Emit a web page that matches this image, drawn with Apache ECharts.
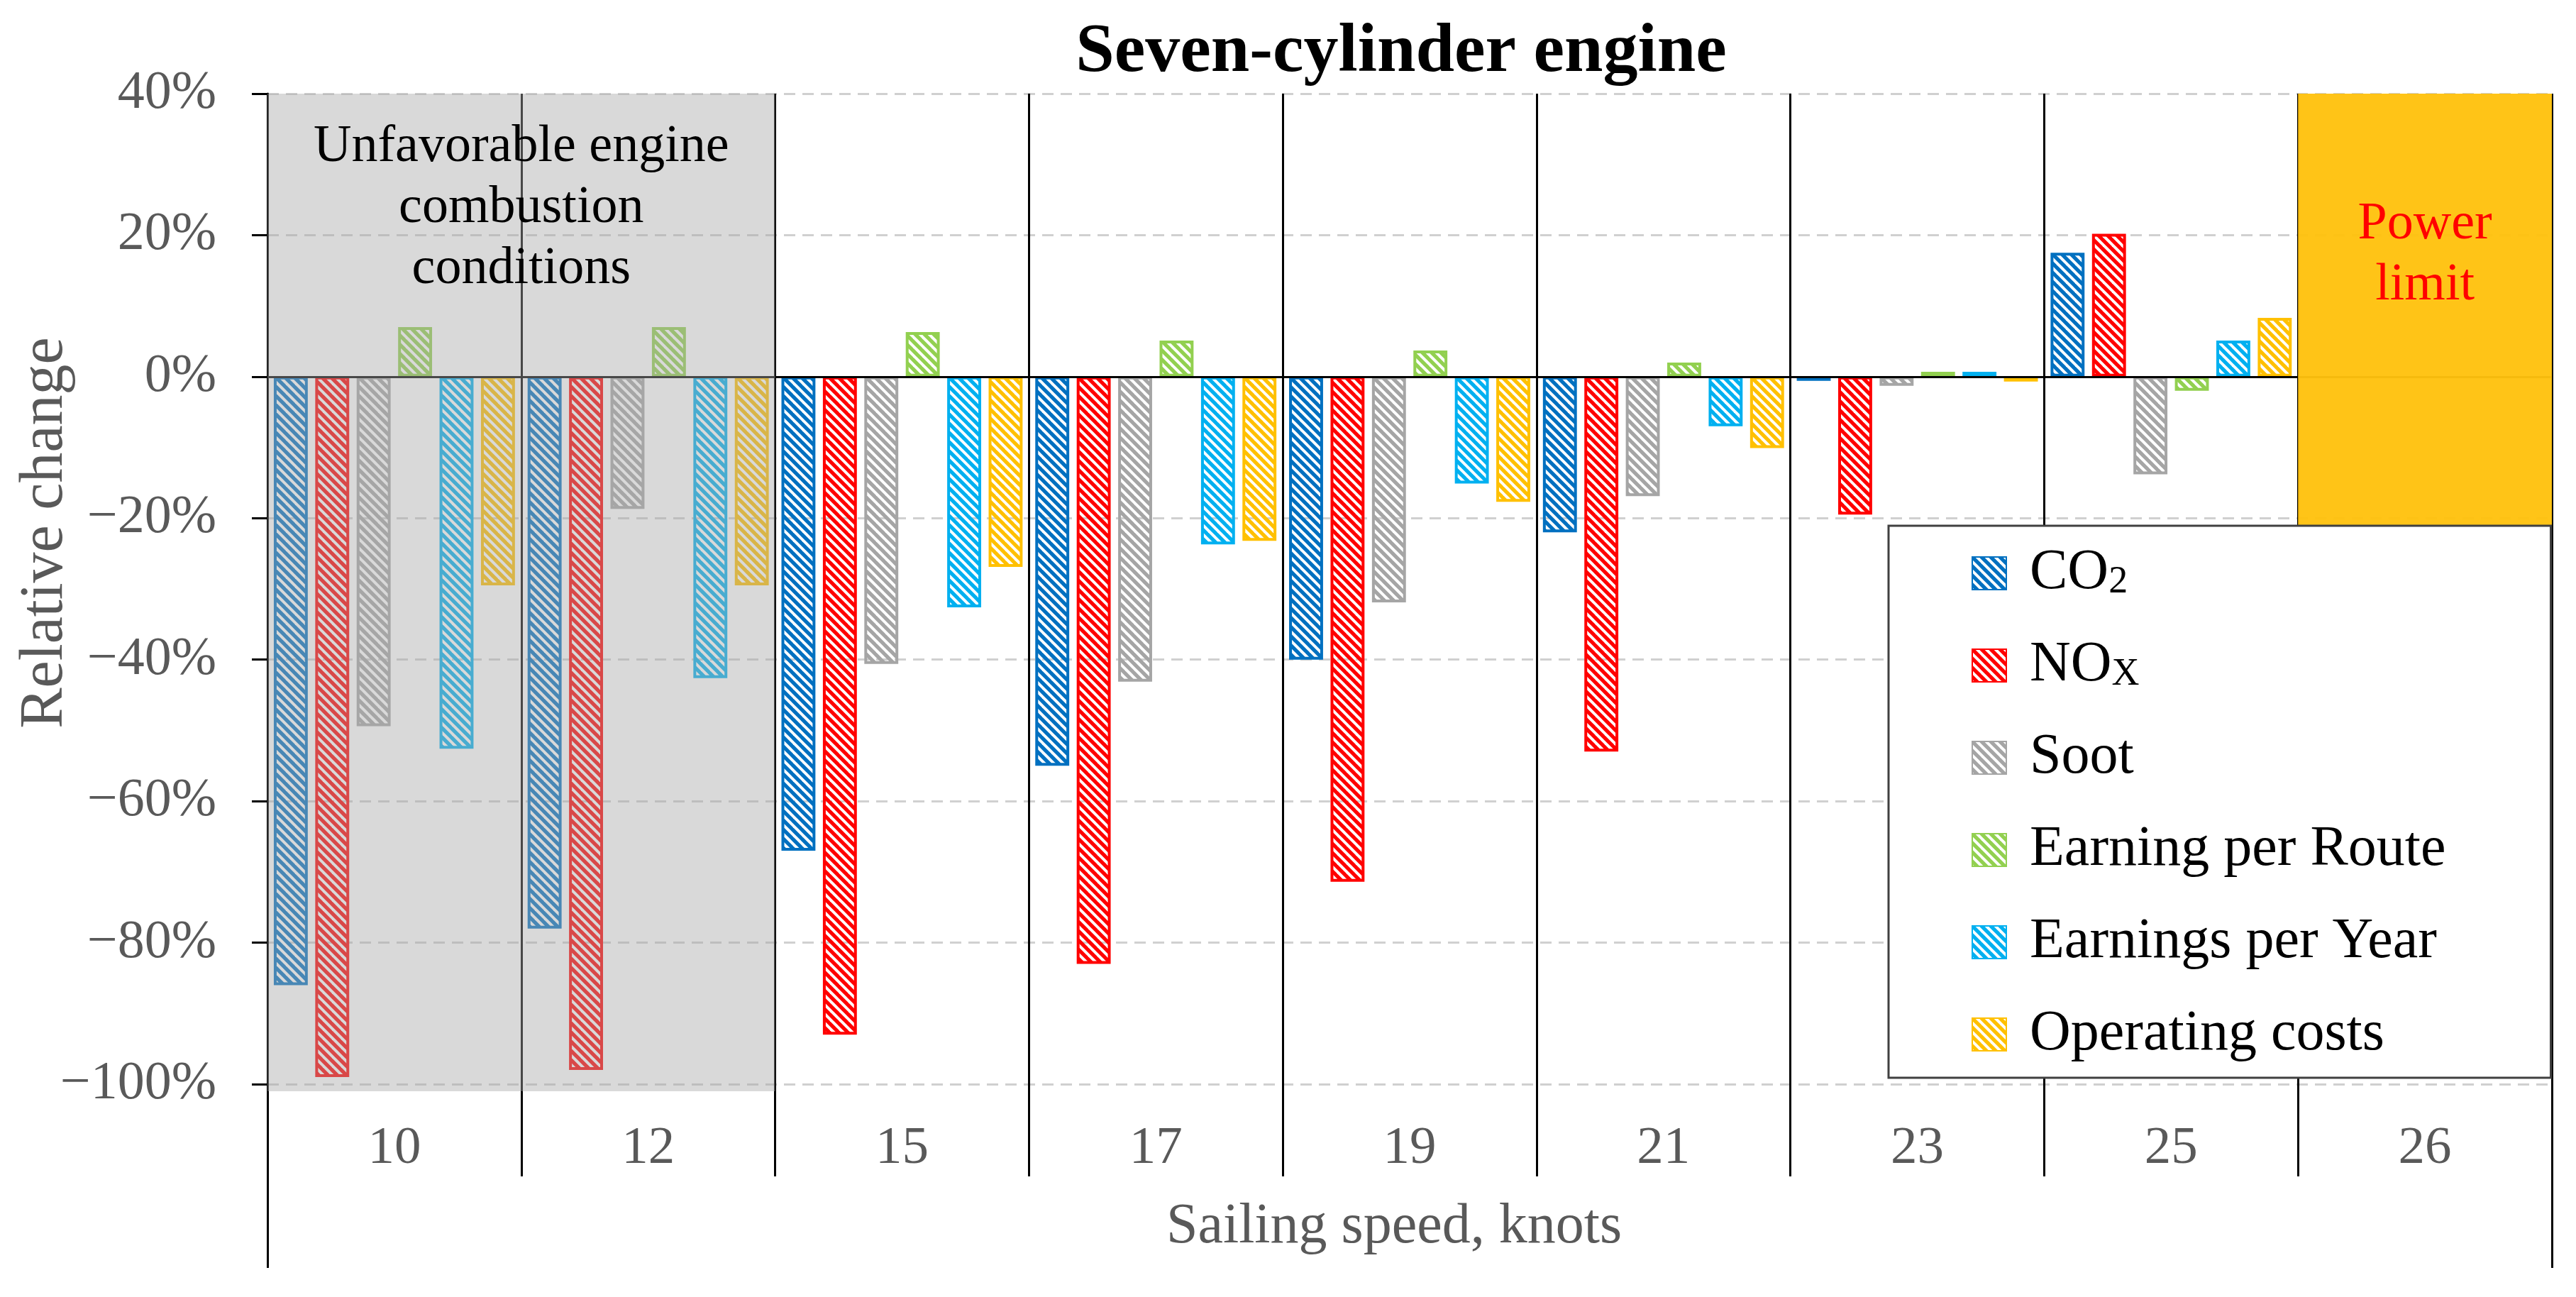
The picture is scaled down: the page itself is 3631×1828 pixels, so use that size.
<!DOCTYPE html>
<html>
<head>
<meta charset="utf-8">
<script src="https://cdn.jsdelivr.net/npm/echarts@6/dist/echarts.min.js"></script>
<style>html,body{margin:0;padding:0;background:#fff;}#c{width:3631px;height:1828px;}</style>
</head>
<body>
<div id="c"></div>
<script>
// ---- data ----
const categories = ['10', '12', '15', '17', '19', '21', '23', '25', '26'];
const seriesNames = ['CO2', 'NOx', 'Soot', 'Earning per Route', 'Earnings per Year', 'Operating costs'];
const co2    = [-86, -78, -67, -55, -40, -22, -0.6, 17.5, null];
const nox    = [-99, -98, -93, -83, -71.4, -53, -19.5, 20.2, null];
const soot   = [-49.4, -18.7, -40.6, -43.1, -31.9, -16.9, -1.3, -13.8, null];
const route  = [7.0, 7.0, 6.3, 5.1, 3.7, 2.0, 0.7, -2.0, null];
const year   = [-52.6, -42.6, -32.6, -23.7, -15.1, -7.0, 0.7, 5.1, null];
const opcost = [-29.5, -29.5, -26.9, -23.2, -17.7, -10.1, -0.7, 8.3, null];
const yTicks = [-100, -80, -60, -40, -20, 0, 20, 40];
// shaded regions (in category-boundary units / % values)
const regionStart  = [0, 8];
const regionEnd    = [2, 9];
const regionTop    = [40, 40];
const regionBottom = [-101, -21.4];
const regionLabelX = [1, 8.5];
const regionLabelY = [23.8, 17.2];
const regionText   = ['Unfavorable engine\ncombustion\nconditions', 'Power\nlimit'];

// ---- styles ----
const colors = ['#0070C0', '#FF0000', '#A5A5A5', '#92D050', '#00B0F0', '#FFC000'];
const regionFill = ['rgba(167,167,167,0.43)', 'rgba(255,194,14,0.96)'];
const regionTextColor = ['#000000', '#FF0000'];
const FONT = 'Liberation Serif';

function hatch(color) {
  const s = 13;
  const c = document.createElement('canvas');
  c.width = s; c.height = s;
  const g = c.getContext('2d');
  g.strokeStyle = color;
  g.lineWidth = 5.2;
  for (const k of [-s, 0, s]) {
    g.beginPath();
    g.moveTo(-3, k - 3);
    g.lineTo(s + 3, s + 3 + k);
    g.stroke();
  }
  return c;
}

const values = [co2, nox, soot, route, year, opcost];
const barSeries = seriesNames.map((name, i) => ({
  name: name,
  type: 'bar',
  xAxisIndex: 0,
  yAxisIndex: 0,
  data: values[i],
  barCategoryGap: '5%',
  barGap: '22%',
  itemStyle: {
    color: { image: hatch(colors[i]), repeat: 'repeat' },
    borderColor: colors[i],
    borderWidth: 4
  },
  emphasis: { disabled: true },
  z: 2
}));
// zero line
barSeries[barSeries.length - 1].markLine = {
  silent: true,
  symbol: 'none',
  label: { show: false },
  lineStyle: { color: '#000', width: 3, type: 'solid' },
  data: [{ yAxis: 0 }]
};

const regionData = regionStart.map((s, i) => [s, regionEnd[i], regionTop[i], regionBottom[i], regionLabelX[i], regionLabelY[i]]);

const regionSeries = {
  type: 'custom',
  xAxisIndex: 1,
  yAxisIndex: 0,
  silent: true,
  z: 5,
  data: regionData,
  renderItem: function (params, api) {
    const i = params.dataIndex;
    const p0 = api.coord([api.value(0), api.value(2)]);
    const p1 = api.coord([api.value(1), api.value(3)]);
    const pl = api.coord([api.value(4), api.value(5)]);
    return {
      type: 'group',
      children: [
        { type: 'rect', shape: { x: p0[0], y: p0[1], width: p1[0] - p0[0], height: p1[1] - p0[1] },
          style: { fill: regionFill[i] } },
        { type: 'text', x: pl[0], y: pl[1],
          style: { text: regionText[i], align: 'center', verticalAlign: 'middle',
                   font: '74px "' + FONT + '"', lineHeight: 86, fill: regionTextColor[i] } }
      ]
    };
  }
};

const chart = echarts.init(document.getElementById('c'), null, { renderer: 'canvas' });
chart.setOption({
  backgroundColor: '#ffffff',
  animation: false,
  title: {
    text: 'Seven-cylinder engine',
    left: 1975, top: 26, padding: 0, textAlign: 'center',
    textStyle: { fontFamily: FONT, fontWeight: 'bold', fontSize: 98, color: '#000' }
  },
  grid: { left: 377, right: 34, top: 132, bottom: 300, outerBoundsMode: 'none' },
  legend: {
    data: seriesNames,
    orient: 'vertical',
    left: 2662, top: 741,
    padding: [27, 148, 21, 117],
    itemWidth: 48, itemHeight: 46, itemGap: 50,
    icon: 'rect',
    backgroundColor: '#ffffff',
    borderColor: '#404040', borderWidth: 3,
    z: 10,
    selectedMode: false,
    formatter: function (name) {
      if (name === 'CO2') return '{m|CO}{s|2}';
      if (name === 'NOx') return '{m|NO}{s|X}';
      return '{m|' + name + '}';
    },
    textStyle: {
      padding: [0, 0, 0, 28],
      rich: {
        m: { fontFamily: FONT, fontSize: 80, lineHeight: 80, color: '#000' },
        s: { fontFamily: FONT, fontSize: 54, lineHeight: 42, verticalAlign: 'bottom', color: '#000' }
      }
    }
  },
  xAxis: [
    {
      type: 'category',
      data: categories,
      position: 'bottom',
      axisLine: { show: false, onZero: false },
      axisTick: { show: true, interval: 0, length: 130, lineStyle: { color: '#000', width: 3 } },
      axisLabel: { interval: 0, margin: 54, fontFamily: FONT, fontSize: 75, color: '#595959' },
      splitLine: { show: true, interval: 0, lineStyle: { color: '#000', width: 3, type: 'solid' } },
      name: 'Sailing speed, knots',
      nameLocation: 'middle',
      nameGap: 162,
      nameMoveOverlap: false,
      nameTextStyle: { fontFamily: FONT, fontSize: 80, color: '#595959', padding: [0, 44, 0, 0] }
    },
    {
      type: 'value',
      min: 0, max: 9, interval: 9,
      position: 'bottom',
      axisLine: { show: false, onZero: false },
      axisTick: { show: true, length: 259, lineStyle: { color: '#000', width: 3 } },
      axisLabel: { show: false },
      splitLine: { show: false }
    }
  ],
  yAxis: {
    type: 'value',
    min: -100, max: 40, interval: 20,
    axisLine: { show: true, onZero: false, lineStyle: { color: '#000', width: 3 } },
    axisTick: { show: true, inside: false, length: 22, lineStyle: { color: '#000', width: 3 } },
    axisLabel: {
      margin: 72, fontFamily: FONT, fontSize: 76, color: '#595959',
      customValues: yTicks,
      formatter: function (v) { return (v < 0 ? '\u2212' : '') + Math.abs(v) + '%'; }
    },
    splitLine: { show: true, lineStyle: { color: '#D0D0D0', width: 3, type: [16, 10] } },
    name: 'Relative change',
    nameLocation: 'middle',
    nameGap: 270,
    nameRotate: 90,
    nameMoveOverlap: false,
    nameTextStyle: { fontFamily: FONT, fontSize: 86, color: '#595959', padding: [0, 0, 0, 158] }
  },
  series: barSeries.concat([regionSeries])
});
</script>
</body>
</html>
